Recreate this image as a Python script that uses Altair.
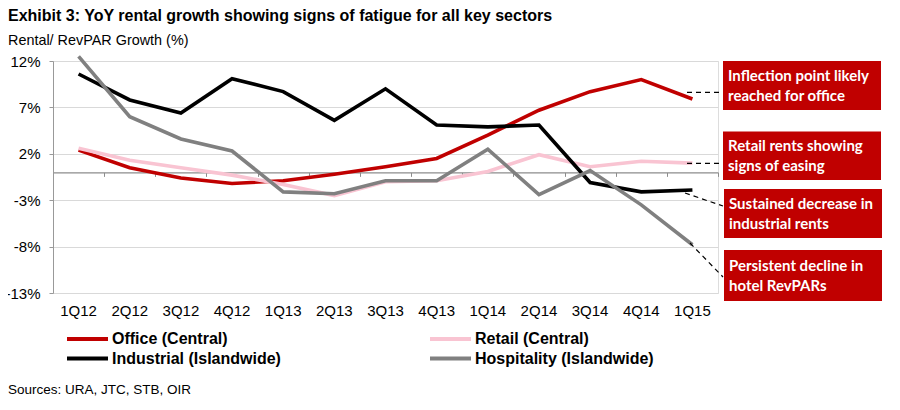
import altair as alt
import pandas as pd

# ---------------- data ----------------
quarters = ["1Q12", "2Q12", "3Q12", "4Q12", "1Q13", "2Q13", "3Q13",
            "4Q13", "1Q14", "2Q14", "3Q14", "4Q14", "1Q15"]
office = [2.4, 0.5, -0.6, -1.2, -0.9, -0.2, 0.6, 1.5, 4.0, 6.7, 8.7, 10.0, 7.9]
retail = [2.6, 1.3, 0.5, -0.3, -1.3, -2.5, -1.0, -0.9, 0.1, 1.9, 0.6, 1.2, 1.0]
industrial = [10.6, 7.8, 6.4, 10.1, 8.7, 5.6, 9.0, 5.1, 4.9, 5.1, -1.1, -2.1, -1.9]
hospitality = [12.5, 6.0, 3.6, 2.3, -2.1, -2.3, -0.9, -0.9, 2.5, -2.4, 0.2, -3.5, -7.8]

series_names = ["Office (Central)", "Retail (Central)",
                "Industrial (Islandwide)", "Hospitality (Islandwide)"]
series_values = [office, retail, industrial, hospitality]
series_colors = ["#C00000", "#F9C4D2", "#000000", "#808080"]

y_ticks = [-13, -8, -3, 2, 7, 12]

title_text = "Exhibit 3: YoY rental growth showing signs of fatigue for all key sectors"
subtitle_text = "Rental/ RevPAR Growth (%)"
source_text = "Sources: URA, JTC, STB, OIR"
annotations = [
    ["Inflection point likely", "reached for office"],
    ["Retail rents showing", "signs of easing"],
    ["Sustained decrease in", "industrial rents"],
    ["Persistent decline in", "hotel RevPARs"],
]

rows = []
for name, vals in zip(series_names, series_values):
    for q, v in zip(quarters, vals):
        rows.append({"quarter": q, "series": name, "value": v})
df = pd.DataFrame(rows)

# ---------------- layout ----------------
W, H = 665, 232
FONT = "Liberation Sans, Arial, sans-serif"
BOX_FONT = "Lato, Open Sans, sans-serif"
one = pd.DataFrame({"k": [0]})
zero_px = H * 12 / 25.0

xscale = alt.Scale(type="band", paddingInner=0, paddingOuter=0)
yscale = alt.Scale(domain=[-13, 12], nice=False, zero=False)
colorscale = alt.Scale(domain=series_names, range=series_colors)

lines = alt.Chart(df).mark_line(strokeWidth=3.6, strokeCap="butt", strokeJoin="miter").encode(
    x=alt.X("quarter:N", sort=quarters, scale=xscale, bandPosition=0.5,
            axis=alt.Axis(title=None, orient="bottom", domain=False, ticks=False,
                          tickSize=0, grid=False, labelPadding=10, labelFontSize=15,
                          labelFont=FONT, labelColor="#000000", labelAngle=0)),
    y=alt.Y("value:Q", scale=yscale,
            axis=alt.Axis(title=None, values=y_ticks, labelExpr="datum.value + '%'",
                          grid=True, gridColor="#D9D9D9", gridWidth=1,
                          domain=True, domainColor="#999999", ticks=True, tickSize=4,
                          tickColor="#999999", labelPadding=9, labelFontSize=15,
                          labelFont=FONT, labelColor="#000000")),
    color=alt.Color("series:N", scale=colorscale, sort=series_names, legend=None),
    order=alt.Order("series_order:Q"),
).transform_calculate(
    series_order="indexof(%s, datum.series)" % str(series_names)
)

zero_axis = alt.Chart(df).mark_point(opacity=0).encode(
    x=alt.X("quarter:N", sort=quarters, scale=xscale,
            axis=alt.Axis(title=None, labels=False, domain=True, domainColor="#8C8C8C",
                          domainWidth=1.2, ticks=True, tickColor="#8C8C8C", tickSize=4,
                          tickBand="extent", grid=False, offset=-(H - zero_px),
                          orient="bottom")),
    y=alt.value(0),
)

def text_mark(txt, x, y, size, weight="normal", color="#000000", font=FONT,
              baseline="middle", align="left"):
    return alt.Chart(one).mark_text(
        text=txt, fontSize=size, fontWeight=weight, color=color, font=font,
        baseline=baseline, align=align
    ).encode(x=alt.value(x), y=alt.value(y))

layers = [lines, zero_axis]

# titles
layers.append(text_mark(title_text, -45, -40.5, 16, weight="bold", baseline="alphabetic"))
layers.append(text_mark(subtitle_text, -45, -16.5, 14.4, baseline="alphabetic"))
layers.append(text_mark(source_text, -45, 332.5, 13.5, baseline="alphabetic"))

# legend
leg_pos = [(14, 278), (377, 278), (14, 297.5), (377, 297.5)]
for name, col, (lx, ly) in zip(series_names, series_colors, leg_pos):
    layers.append(alt.Chart(one).mark_rule(color=col, strokeWidth=4).encode(
        x=alt.value(lx), x2=alt.value(lx + 41), y=alt.value(ly)))
    layers.append(text_mark(name, lx + 45, ly, 16, weight="bold"))

# annotation boxes
boxes = [(670, 828, 0, 49), (670, 828, 70.5, 119), (671, 829, 128, 177), (671, 829, 189, 240)]
for (bx1, bx2, by1, by2), lines_txt in zip(boxes, annotations):
    layers.append(alt.Chart(one).mark_rect(color="#C00000").encode(
        x=alt.value(bx1), x2=alt.value(bx2), y=alt.value(by1), y2=alt.value(by2)))
    cy = (by1 + by2) / 2.0
    layers.append(text_mark(lines_txt[0], bx1 + 5, cy - 9.5, 15, weight="bold",
                            color="#FFFFFF", font=BOX_FONT))
    layers.append(text_mark(lines_txt[1], bx1 + 5, cy + 10, 15, weight="bold",
                            color="#FFFFFF", font=BOX_FONT))

# dashed connectors
connectors = [((634, 31.3), (670, 31.3)), ((634, 102.3), (670, 102.3)),
              ((632, 132), (670, 145)), ((637, 182), (670, 216))]
for (x1, y1), (x2, y2) in connectors:
    layers.append(alt.Chart(one).mark_rule(color="#000000", strokeWidth=1.2,
                                           strokeDash=[5, 4]).encode(
        x=alt.value(x1), y=alt.value(y1), x2=alt.value(x2), y2=alt.value(y2)))

chart = alt.layer(*layers).resolve_axis(x="independent").properties(
    width=W, height=H,
    autosize=alt.AutoSizeParams(type="none"),
    padding={"left": 45, "top": 53, "right": 174, "bottom": 109},
).configure_view(stroke=None).configure(background="#FFFFFF")

chart.save("out.html", embed_options={"renderer": "svg", "actions": False})
